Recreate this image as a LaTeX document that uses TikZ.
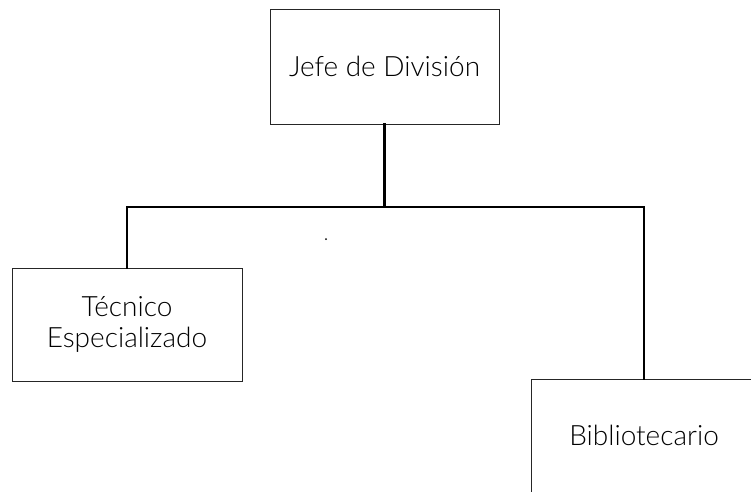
\documentclass[tikz,border=0pt]{standalone}
\usepackage{fontspec}
\setmainfont{Lato}[UprightFont=* Light]
\begin{document}
\begin{tikzpicture}[x=1pt,y=-1pt,
  box/.style={draw=black!85, line width=0.9pt, fill=white, align=center, inner sep=0pt,
    font=\fontsize{28}{31}\selectfont},
  link/.style={draw=black, line width=2.6pt, line cap=rect}]
\useasboundingbox (0,0) rectangle (751,491);
\clip (0,0) rectangle (751,491);
\node[box, minimum width=229pt, minimum height=115pt] (top) at (384.5,66.5) {Jefe de División};
\node[box, minimum width=230pt, minimum height=113pt] (left) at (127,324.5) {Técnico\\Especializado};
\node[box, minimum width=226pt, minimum height=113pt] (right) at (644,435.5) {Bibliotecario};
\coordinate (bar) at (385,207);
\draw[link] (top.south) -- (top.south |- bar);
\draw[link] (left.north) -- (left.north |- bar) -- (right.north |- bar) -- (right.north);
\fill (326,239) circle (1pt);
\end{tikzpicture}
\end{document}
